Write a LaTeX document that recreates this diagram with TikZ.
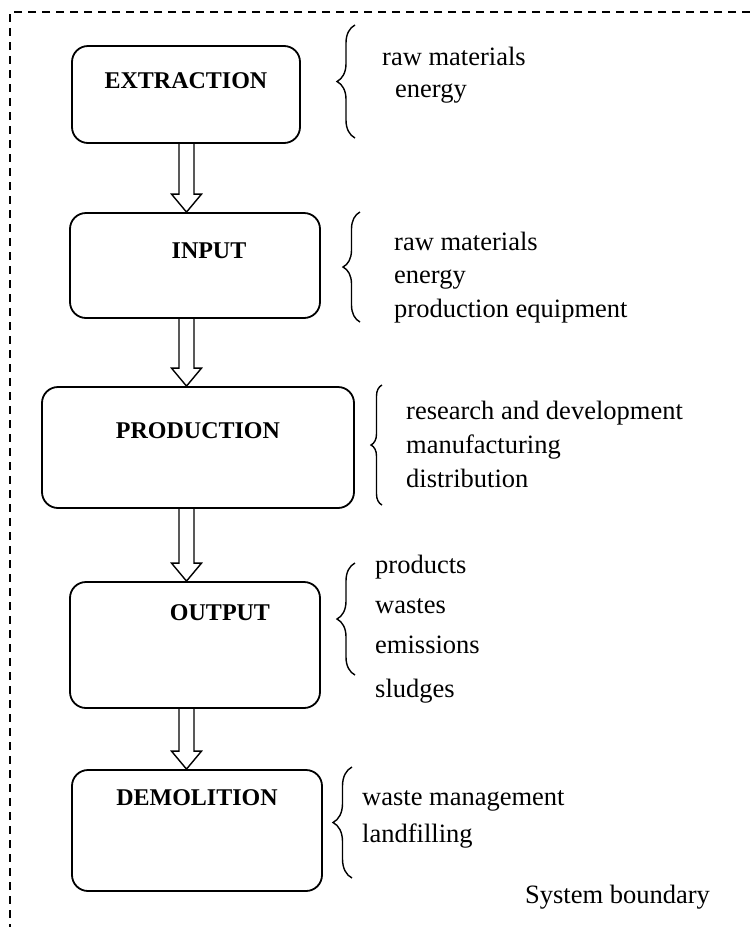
\documentclass[tikz,border=0pt]{standalone}
\usepackage{fontspec}
\setmainfont{Liberation Serif}
\usetikzlibrary{calc,decorations.pathreplacing}

\tikzset{
  stage/.style={draw, line width=1.8pt, rounded corners=16pt, inner sep=0pt,
    font=\fontsize{24}{28}\selectfont\bfseries},
  hollow/.style={line width=1.4pt, line join=miter},
  curly/.style={decorate, decoration={brace, amplitude=#1}, line width=1.4pt},
  curly/.default=18pt,
  item/.style={anchor=base west, inner sep=0pt, font=\fontsize{26.5}{30}\selectfont},
  boundary/.style={line width=1.2pt, dash pattern=on 8pt off 6pt}
}

% hollow block arrow from one stage to the next
\newcommand{\flowarrow}[2]{%
  \draw[hollow] ($(axis |- #1.south)+(-7.5,0)$) -- ($(axis |- #2.north)+(-7.5,-18)$)
    -- ++(-7.5,0) -- (axis |- #2.north) -- ++(15,-18) -- ++(-7.5,0)
    -- ($(axis |- #1.south)+(7.5,0)$);}

\begin{document}
\begin{tikzpicture}[x=1pt, y=-1pt]
  \useasboundingbox (0,0) rectangle (750,927);

  % 1. system boundary
  \draw[boundary] (750,12) -- (10,12) -- (10,927);
  \node[item] (boundary-label) at (525,903) {System boundary};

  % 2. stages
  \node[stage, minimum width=228pt, text height=42pt, text depth=55pt] (extraction) at (186,94.5) {EXTRACTION};
  \node[stage, minimum width=250pt, text height=45pt, text depth=60pt] (input) at (195,265.5) {\hspace*{28pt}INPUT};
  \node[stage, minimum width=312pt, text height=51pt, text depth=70pt] (production) at (198,447.5) {PRODUCTION};
  \node[stage, minimum width=250pt, text height=38pt, text depth=88pt] (output) at (195,645) {\hspace*{50pt}OUTPUT};
  \node[stage, minimum width=250pt, text height=35pt, text depth=86pt] (demolition) at (197,830.5) {DEMOLITION};

  % 3. arrows
  \coordinate (axis) at (186.5,0);
  \flowarrow{extraction}{input}
  \flowarrow{input}{production}
  \flowarrow{production}{output}
  \flowarrow{output}{demolition}

  % 4. braces and lists
  \draw[curly] (355,138) -- (355,25);
  \node[item] (ext-raw) at (382,65) {raw materials};
  \node[item] (ext-energy) at (395,97) {energy};

  \draw[curly=17pt] (360,322) -- (360,212);
  \node[item] (in-raw) at (394,250) {raw materials};
  \node[item] (in-energy) at (394,283) {energy};
  \node[item] (in-equip) at (394,317) {production equipment};

  \draw[curly=11pt] (382,505) -- (382,385);
  \node[item] (pro-rd) at (406,419) {research and development};
  \node[item] (pro-man) at (406,453) {manufacturing};
  \node[item] (pro-dist) at (406,487) {distribution};

  \draw[curly] (355,675) -- (355,563);
  \node[item] (out-prod) at (375,573) {products};
  \node[item] (out-waste) at (375,613) {wastes};
  \node[item] (out-emis) at (375,653) {emissions};
  \node[item] (out-sludge) at (375,697) {sludges};

  \draw[curly=19pt] (352,878) -- (352,767);
  \node[item] (dem-waste) at (362,805) {waste management};
  \node[item] (dem-land) at (362,842) {landfilling};
\end{tikzpicture}
\end{document}
